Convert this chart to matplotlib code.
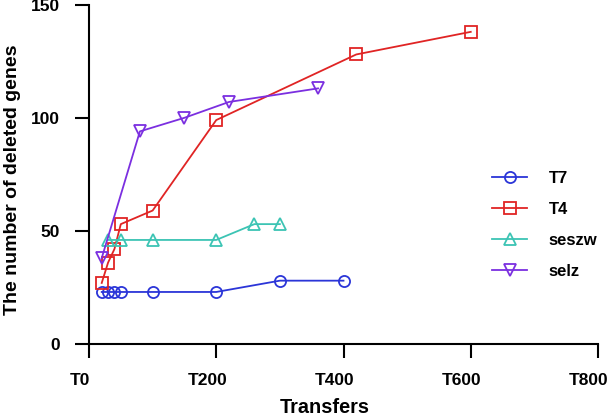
import numpy as np
import matplotlib
matplotlib.use('Agg')
import matplotlib.pyplot as plt
import matplotlib.transforms as mtransforms

plt.rcParams['font.family'] = ['Liberation Sans', 'DejaVu Sans']
plt.rcParams['font.weight'] = 'bold'

# data
t7_x = [20, 30, 40, 50, 100, 200, 300, 400]
t7_y = [23, 23, 23, 23, 23, 23, 28, 28]

t4_x = [20, 30, 40, 50, 100, 200, 420, 600]
t4_y = [27, 36, 42, 53, 59, 99, 128, 138]

seszw_x = [30, 50, 100, 200, 260, 300]
seszw_y = [46, 46, 46, 46, 53, 53]

selz_x = [20, 80, 150, 220, 360]
selz_y = [38, 94, 100, 107, 113]

x_ticks = [0, 200, 400, 600, 800]
x_ticklabels = ['T0', 'T200', 'T400', 'T600', 'T800']
y_ticks = [0, 50, 100, 150]

fig = plt.figure(figsize=(6.08, 4.16), dpi=100)
ax = fig.add_axes([89/608, 72/416, 509/608, 339.3/416])

style = dict(lw=1.3, ms=8, mew=1.3, mfc='none')
ax.plot(t7_x, t7_y, 'o-', color='#2b35d8', label='T7', **style)
ax.plot(t4_x, t4_y, 's-', color='#e02424', label='T4', **style)
ax.plot(seszw_x, seszw_y, '^-', color='#3cc4b4', label='seszw', **style)
ax.plot(selz_x, selz_y, 'v-', color='#7b2fe0', label='selz', **style)

ax.set_xlim(0, 800)
ax.set_ylim(0, 150)
ax.set_xticks(x_ticks)
ax.set_xticklabels(x_ticklabels)
ax.set_yticks(y_ticks)

for s in ['top', 'right']:
    ax.spines[s].set_visible(False)
for s in ['left', 'bottom']:
    ax.spines[s].set_linewidth(1.5)
ax.tick_params(direction='out', length=10, width=1.5, color='black',
               pad=11, labelsize=12.5)

# x tick labels in the reference sit a little left of their ticks
shift_x = mtransforms.ScaledTranslation(-9/100, 0, fig.dpi_scale_trans)
for lab in ax.get_xticklabels():
    lab.set_transform(lab.get_transform() + shift_x)

ax.set_xlabel('Transfers', fontsize=14.3, fontweight='bold')
ax.set_ylabel('The number of deleted genes', fontsize=14, fontweight='bold')
ax.xaxis.set_label_coords(236/509, -0.16)
ax.yaxis.set_label_coords(-0.134, 0.483)

leg = fig.legend(loc='upper left', bbox_to_anchor=(492/608, 1 - 171/416),
                 frameon=False, fontsize=12, handlelength=2.1,
                 handletextpad=1.3, labelspacing=0.96,
                 borderpad=0, borderaxespad=0)

fig.savefig('out.png', dpi=100)
